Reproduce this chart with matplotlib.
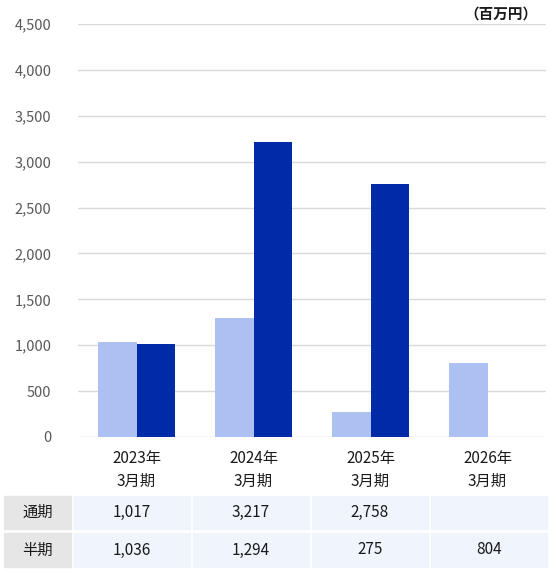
import numpy as np
import matplotlib.pyplot as plt
from matplotlib.patches import Rectangle

plt.rcParams['font.family'] = ['Noto Sans CJK JP', 'DejaVu Sans']

periods = ['2023年\n3月期', '2024年\n3月期', '2025年\n3月期', '2026年\n3月期']
half_year = [1036, 1294, 275, 804]
full_year = [1017, 3217, 2758, None]
row_names = ['通期', '半期']
yticks = np.arange(0, 4501, 500)

W, H = 556, 573
fig = plt.figure(figsize=(W / 100, H / 100), dpi=100)

# plot area in pixels (left, top, right, bottom)
x0, y0, x1, y1 = 78, 24, 546, 437
ax = fig.add_axes([x0 / W, 1 - y1 / H, (x1 - x0) / W, (y1 - y0) / H])

x = np.arange(len(periods))
bw = 0.333
ax.bar(x - bw / 2, half_year, width=bw, color='#adc0f2', zorder=3)
fy = [v if v is not None else 0 for v in full_year]
ax.bar(x + bw / 2, fy, width=bw, color='#002ba8', zorder=3)

ax.set_xlim(-0.5, len(periods) - 0.5)
ax.set_ylim(0, 4500)
ax.set_yticks(yticks)
ax.set_yticklabels([f'{v:,}' for v in yticks], fontsize=10.5, color='#595959')
ax.tick_params(axis='y', length=0, pad=19)
ax.set_xticks([])
ax.grid(axis='y', color='#d9d9d9', linewidth=1, zorder=0)
for s in ax.spines.values():
    s.set_visible(False)

fig.text(538 / W, 1 - 14 / H, '（百万円）', ha='right', va='center',
         fontsize=10.5, fontweight='bold', color='#1a1a1a')

# category labels under the axis
for i, p in enumerate(periods):
    xc = ax.transData.transform((i, 0))[0]
    fig.text(xc / W, 1 - 470 / H, p, ha='center', va='center',
             fontsize=11, color='#1a1a1a', linespacing=1.45)

# data table
cols = [(74, 190), (193, 309), (312, 428), (431, 547)]
rows = [(496, 529), (533, 567)]
values = [full_year, half_year]
for r, (ra, rb) in enumerate(rows):
    fig.patches.append(Rectangle((4 / W, 1 - rb / H), 67 / W, (rb - ra) / H,
                                 transform=fig.transFigure, color='#e6e6e6'))
    fig.text(37.5 / W, 1 - (ra + rb) / 2 / H, row_names[r], ha='center',
             va='center', fontsize=11, color='#1a1a1a')
    for c, (ca, cb) in enumerate(cols):
        fig.patches.append(Rectangle((ca / W, 1 - rb / H), (cb - ca) / W,
                                     (rb - ra) / H, transform=fig.transFigure,
                                     color='#f0f5fd'))
        v = values[r][c]
        if v is not None:
            fig.text((ca + cb) / 2 / W, 1 - (ra + rb) / 2 / H, f'{v:,}',
                     ha='center', va='center', fontsize=11, color='#1a1a1a')

fig.savefig('out.png', dpi=100)
